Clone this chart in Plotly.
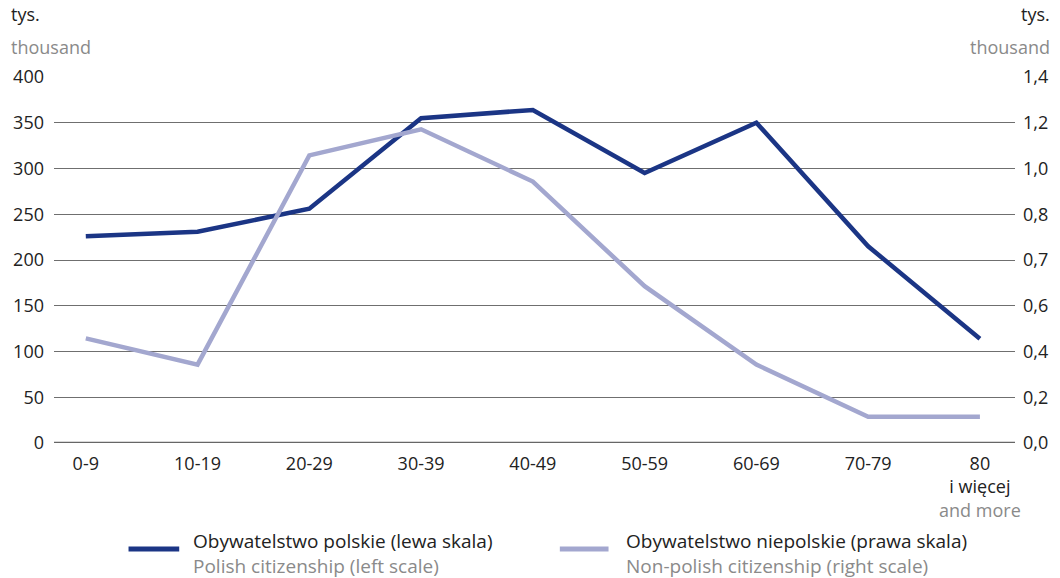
import plotly.graph_objects as go

categories = ["0-9", "10-19", "20-29", "30-39", "40-49", "50-59", "60-69", "70-79", "80+"]
cat_labels = ["0-9", "10-19", "20-29", "30-39", "40-49", "50-59", "60-69", "70-79",
              "80<br>i więcej<br><span style='color:#8a8a8a'>and more</span>"]
polish = [226, 231, 256, 355, 364, 295, 350, 215, 114]
non_polish = [0.40, 0.30, 1.10, 1.20, 1.00, 0.60, 0.30, 0.10, 0.10]

left_ticks = [0, 50, 100, 150, 200, 250, 300, 350, 400]
right_ticks = [0, 0.175, 0.35, 0.525, 0.7, 0.875, 1.05, 1.225, 1.4]
right_text = ["0,0", "0,2", "0,4", "0,6", "0,7", "0,8", "1,0", "1,2", "1,4"]

DARK = "#1b3585"
LIGHT = "#a3a7cf"
GRAYTXT = "#8a8a8a"
FONT = "Open Sans"
FS = 18
x = list(range(len(categories)))

L, R, T, B = 54, 39, 77, 135
PW = 1060 - L - R
PH = 578 - T - B

def px(xp):
    return (xp - L) / PW

def py(yp):
    return (578 - B - yp) / PH

fig = go.Figure()
fig.add_trace(go.Scatter(x=x, y=polish, mode="lines", line=dict(color=DARK, width=4.5),
                         name="Obywatelstwo polskie (lewa skala)", yaxis="y", showlegend=False))
fig.add_trace(go.Scatter(x=x, y=non_polish, mode="lines", line=dict(color=LIGHT, width=4.5),
                         name="Obywatelstwo niepolskie (prawa skala)", yaxis="y2", showlegend=False))

fig.update_layout(
    width=1060, height=578,
    margin=dict(l=L, r=R, t=T, b=B),
    paper_bgcolor="white", plot_bgcolor="white",
    font=dict(family=FONT, size=FS, color="#222"),
    xaxis=dict(tickmode="array", tickvals=x, ticktext=cat_labels, range=[-0.2845, 8.314],
               showgrid=False, zeroline=False, showline=False, ticks="",
               ticklabelstandoff=8, tickfont=dict(size=FS, color="#222")),
    yaxis=dict(range=[0, 400], tickvals=left_ticks, showgrid=True, gridcolor="#6f6f6f",
               gridwidth=1, zeroline=False, showline=False, ticks="", ticklabelstandoff=9,
               tickfont=dict(size=FS, color="#222")),
    yaxis2=dict(range=[0, 1.4], overlaying="y", side="right", tickvals=right_ticks,
                ticktext=right_text, showgrid=False, zeroline=False, showline=False, ticks="",
                ticklabelstandoff=7, tickfont=dict(size=FS, color="#222")),
    shapes=[
        dict(type="line", xref="paper", yref="y", x0=0, x1=1, y0=0, y1=0,
             line=dict(color="#666", width=2.5), layer="below"),
        dict(type="line", xref="paper", yref="paper", x0=px(129), x1=px(180),
             y0=py(549), y1=py(549), line=dict(color=DARK, width=5)),
        dict(type="line", xref="paper", yref="paper", x0=px(563), x1=px(612),
             y0=py(549), y1=py(549), line=dict(color=LIGHT, width=5)),
    ],
    annotations=[
        dict(xref="paper", yref="paper", x=px(9), y=py(14), text="tys.",
             showarrow=False, xanchor="left", yanchor="middle", font=dict(size=FS, color="#222")),
        dict(xref="paper", yref="paper", x=px(9), y=py(47), text="thousand",
             showarrow=False, xanchor="left", yanchor="middle", font=dict(size=FS, color=GRAYTXT)),
        dict(xref="paper", yref="paper", x=px(1058), y=py(14), text="tys.",
             showarrow=False, xanchor="right", yanchor="middle", font=dict(size=FS, color="#222")),
        dict(xref="paper", yref="paper", x=px(1058), y=py(47), text="thousand",
             showarrow=False, xanchor="right", yanchor="middle", font=dict(size=FS, color=GRAYTXT)),
        dict(xref="paper", yref="paper", x=px(192), y=py(553), align="left",
             text="Obywatelstwo polskie (lewa skala)<br><span style='color:#8a8a8a'>Polish citizenship (left scale)</span>",
             showarrow=False, xanchor="left", yanchor="middle", font=dict(size=19, color="#222")),
        dict(xref="paper", yref="paper", x=px(628), y=py(553), align="left",
             text="Obywatelstwo niepolskie (prawa skala)<br><span style='color:#8a8a8a'>Non-polish citizenship (right scale)</span>",
             showarrow=False, xanchor="left", yanchor="middle", font=dict(size=19, color="#222")),
    ],
)

fig.write_html("out.html", config={"displayModeBar": False},
               post_script="document.body.style.margin='0';")
